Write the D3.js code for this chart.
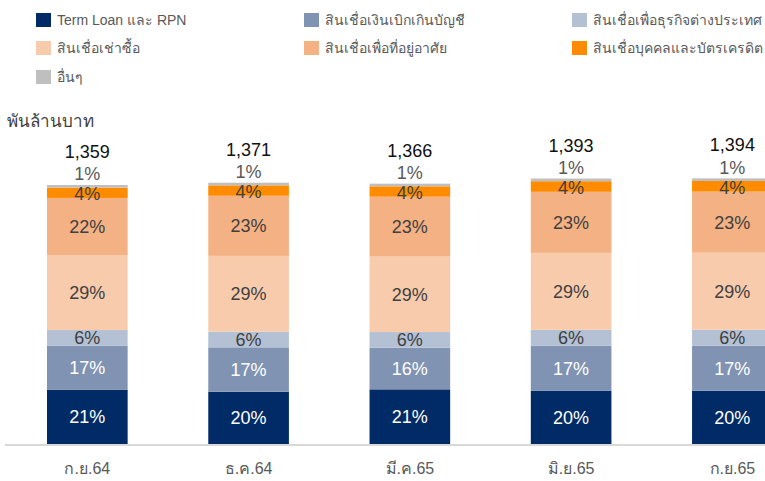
<!DOCTYPE html>
<html>
<head>
<meta charset="utf-8">
<script src="https://cdn.jsdelivr.net/npm/d3@7"></script>
<style>
  body { margin: 0; background: #fff; }
  svg { display: block; font-family: "Liberation Sans", Arial, "Noto Sans", sans-serif; }
</style>
</head>
<body>
<div id="chart"></div>
<script>
// data
const categories = ['ก.ย.64', 'ธ.ค.64', 'มี.ค.65', 'มิ.ย.65', 'ก.ย.65'];
const totals = [1359, 1371, 1366, 1393, 1394];
const seriesNames = [
  'Term Loan และ RPN',
  'สินเชื่อเงินเบิกเกินบัญชี',
  'สินเชื่อเพื่อธุรกิจต่างประเทศ',
  'สินเชื่อเช่าซื้อ',
  'สินเชื่อเพื่อที่อยู่อาศัย',
  'สินเชื่อบุคคลและบัตรเครดิต',
  'อื่นๆ',
];
const termLoan = [21, 20, 21, 20, 20];
const overdraft = [17, 17, 16, 17, 17];
const foreign = [6, 6, 6, 6, 6];
const hirePurchase = [29, 29, 29, 29, 29];
const housing = [22, 23, 23, 23, 23];
const personal = [4, 4, 4, 4, 4];
const others = [1, 1, 1, 1, 1];

const pctSeries = [termLoan, overdraft, foreign, hirePurchase, housing, personal, others];
const colors = ['#002b66', '#8093b3', '#b4c0d3', '#f8cbad', '#f4b183', '#ff8c00', '#bfbfbf'];
const labelColors = ['#ffffff', '#ffffff', '#404040', '#404040', '#404040', '#404040', '#595959'];

const width = 765, height = 481;
const svg = d3.select('#chart').append('svg')
  .attr('width', width)
  .attr('height', height);

// rows for stacking (share of total)
const rows = categories.map((c, i) => {
  const row = { cat: c };
  pctSeries.forEach((s, k) => { row[k] = totals[i] * s[i] / 100; });
  return row;
});
const keys = pctSeries.map((s, k) => k);
const stacked = d3.stack().keys(keys)(rows);

const x = d3.scaleBand()
  .domain(categories)
  .range([6.7, 813])
  .paddingInner(0.5)
  .paddingOuter(0.25);

const y = d3.scaleLinear()
  .domain([0, 1400])
  .range([444, 177.2]);

// bars
const layers = svg.append('g').selectAll('g')
  .data(stacked)
  .join('g')
  .attr('fill', d => colors[d.key]);

layers.selectAll('rect')
  .data(d => d)
  .join('rect')
  .attr('x', d => x(d.data.cat))
  .attr('y', d => y(d[1]))
  .attr('width', x.bandwidth())
  .attr('height', d => y(d[0]) - y(d[1]));

// baseline
svg.append('line')
  .attr('x1', 5).attr('x2', width)
  .attr('y1', 445).attr('y2', 445)
  .attr('stroke', '#d9d9d9')
  .attr('stroke-width', 2);

// percent labels
stacked.forEach((layer, k) => {
  svg.append('g').selectAll('text')
    .data(layer)
    .join('text')
    .attr('x', d => x(d.data.cat) + x.bandwidth() / 2)
    .attr('y', d => {
      if (k === 6) return y(d[1]) - 11;
      if (k === 5) return (y(d[0]) + y(d[1])) / 2 + 1;
      return (y(d[0]) + y(d[1])) / 2;
    })
    .attr('dy', '0.36em')
    .attr('text-anchor', 'middle')
    .attr('font-size', 18)
    .attr('fill', labelColors[k])
    .text((d, i) => pctSeries[k][i] + '%');
});

// totals
svg.append('g').selectAll('text')
  .data(categories)
  .join('text')
  .attr('x', d => x(d) + x.bandwidth() / 2)
  .attr('y', (d, i) => y(totals[i]) - 27)
  .attr('text-anchor', 'middle')
  .attr('font-size', 18)
  .attr('fill', '#111')
  .text((d, i) => d3.format(',')(totals[i]));

// x axis labels
svg.append('g').selectAll('text')
  .data(categories)
  .join('text')
  .attr('x', d => x(d) + x.bandwidth() / 2)
  .attr('y', 474)
  .attr('text-anchor', 'middle')
  .attr('font-size', 16)
  .attr('fill', '#595959')
  .text(d => d);

// unit label
svg.append('text')
  .attr('x', 7)
  .attr('y', 127)
  .attr('font-size', 17)
  .attr('fill', '#404040')
  .text('พันล้านบาท');

// legend
const legendPos = [
  [36, 20], [304, 20], [572, 20],
  [36, 48], [304, 48], [572, 48],
  [36, 77],
];
const legend = svg.append('g').selectAll('g')
  .data(seriesNames)
  .join('g')
  .attr('transform', (d, i) => 'translate(' + legendPos[i][0] + ',' + legendPos[i][1] + ')');

legend.append('rect')
  .attr('x', 0).attr('y', -7)
  .attr('width', 15).attr('height', 14)
  .attr('fill', (d, i) => colors[i]);

legend.append('text')
  .attr('x', 21)
  .attr('y', 0)
  .attr('dy', '0.35em')
  .attr('font-size', 14)
  .attr('fill', '#595959')
  .text(d => d);
</script>
</body>
</html>
